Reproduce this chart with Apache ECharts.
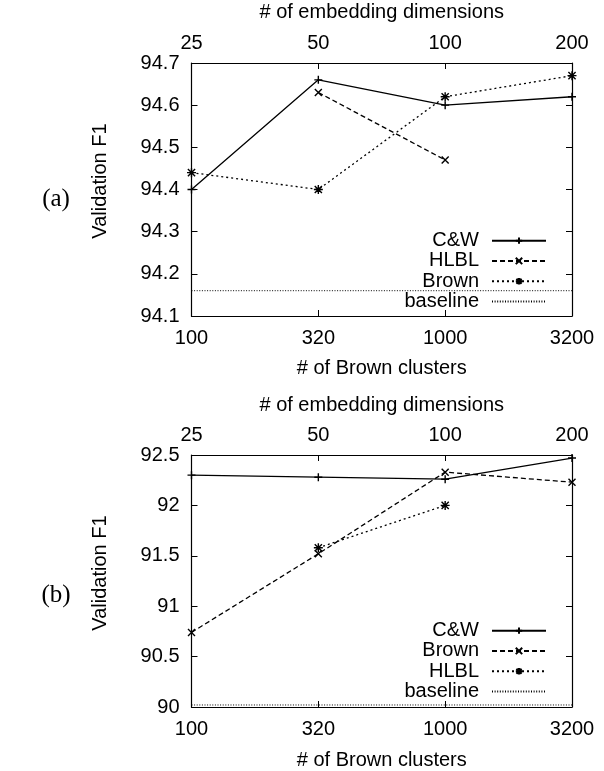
<!DOCTYPE html>
<html>
<head>
<meta charset="utf-8">
<script src="https://cdn.jsdelivr.net/npm/echarts@6/dist/echarts.min.js"></script>
<style>
html,body{margin:0;padding:0;background:#fff;}
#c{width:604px;height:771px;}
</style>
</head>
<body>
<div id="c"></div>
<script>
// ---- data ----
const embDims = ['25', '50', '100', '200'];
const brownClusters = ['100', '320', '1000', '3200'];

// panel (a)
const cwA = [94.40, 94.66, 94.60, 94.62];
const hlblA = [null, 94.63, 94.47, null];
const brownA = [94.44, 94.40, 94.62, 94.67];
const baselineA = 94.16;

// panel (b)
const cwB = [92.30, 92.28, 92.26, 92.47];
const brownB = [90.74, 91.52, 92.33, 92.23];
const hlblB = [null, 91.58, 92.00, null];
const baselineB = 90.02;

const FONT = 'Liberation Sans';
const PLUS = 'path://M-1,0L1,0M0,-1L0,1';
const CROSS = 'path://M-1,-1L1,1M-1,1L1,-1';
const STAR = 'path://M-1,0L1,0M0,-1L0,1M-0.8,-0.8L0.8,0.8M-0.8,0.8L0.8,-0.8';

const chart = echarts.init(document.getElementById('c'), null, {renderer: 'canvas'});

const grids = [
  {left: 191.5, top: 63, width: 380.5, height: 253},
  {left: 191.5, top: 455, width: 380.5, height: 252}
];

function xAxes(gi, botMargin, botGap, topMargin, topGap) {
  const common = {
    type: 'category', gridIndex: gi, boundaryGap: false,
    axisLine: {show: true, lineStyle: {color: '#000', width: 1.2}},
    axisTick: {show: true, inside: true, length: 6, lineStyle: {color: '#000', width: 1}},
    axisLabel: {fontSize: 20, color: '#000', fontFamily: FONT},
    splitLine: {show: false},
    nameLocation: 'middle',
    nameTextStyle: {fontSize: 20, color: '#000', fontFamily: FONT}
  };
  return [
    Object.assign({}, common, {position: 'bottom', data: brownClusters, name: '# of Brown clusters', nameGap: botGap,
      axisLabel: Object.assign({}, common.axisLabel, {margin: botMargin})}),
    Object.assign({}, common, {position: 'top', data: embDims, name: '# of embedding dimensions', nameGap: topGap,
      axisLabel: Object.assign({}, common.axisLabel, {margin: topMargin})})
  ];
}

function yAxes(gi, min, max, interval) {
  const common = {
    type: 'value', gridIndex: gi, min: min, max: max, interval: interval,
    axisLine: {show: true, lineStyle: {color: '#000', width: 1.2}},
    axisTick: {show: true, inside: true, length: 6, lineStyle: {color: '#000', width: 1}},
    splitLine: {show: false}
  };
  return [
    Object.assign({}, common, {position: 'left',
      axisLabel: {fontSize: 20, color: '#000', fontFamily: FONT, margin: 12}}),
    Object.assign({}, common, {position: 'right', axisLabel: {show: false}})
  ];
}

function lineSeries(name, data, xi, yi, type, symbol, size) {
  const isBase = type === 'baseline';
  return {
    name: name, type: 'line', data: data, xAxisIndex: xi, yAxisIndex: yi,
    symbol: symbol, symbolSize: size, showSymbol: !isBase,
    connectNulls: false, silent: true, animation: false,
    lineStyle: {color: '#000', width: isBase ? 1 : 1.3,
      type: type === 'solid' ? 'solid' : type === 'dashed' ? [5, 3] : type === 'dotted' ? [2, 3] : [1, 1.6]},
    itemStyle: isBase ? {color: 'rgba(0,0,0,0)', borderColor: 'rgba(0,0,0,0)', borderWidth: 0}
                      : {color: '#000', borderColor: '#000', borderWidth: 1.4},
    emphasis: {disabled: true}
  };
}

const ZW = '\u200b';
const series = [
  lineSeries('C&W', cwA, 1, 0, 'solid', PLUS, 8),
  lineSeries('HLBL', hlblA, 1, 0, 'dashed', CROSS, 7),
  lineSeries('Brown', brownA, 0, 0, 'dotted', STAR, 9),
  lineSeries('baseline', brownClusters.map(() => baselineA), 0, 0, 'baseline', 'circle', 0),
  lineSeries('C&W' + ZW, cwB, 3, 2, 'solid', PLUS, 8),
  lineSeries('Brown' + ZW, brownB, 2, 2, 'dashed', CROSS, 7),
  lineSeries('HLBL' + ZW, hlblB, 3, 2, 'dotted', STAR, 9),
  lineSeries('baseline' + ZW, brownClusters.map(() => baselineB), 2, 2, 'baseline', 'circle', 0)
];

function legend(names, top) {
  return {
    data: names, orient: 'vertical', align: 'right', right: 57, top: top,
    itemWidth: 54, itemHeight: 8, itemGap: 0, padding: 0,
    selectedMode: false,
    textStyle: {fontSize: 20, color: '#000', fontFamily: FONT, lineHeight: 20.3, padding: [0, 8, 0, 0]}
  };
}

const xa = xAxes(0, 12, 42, 10, 41).concat(xAxes(1, 12, 43, 10, 40));
const ya = yAxes(0, 94.1, 94.7, 0.1).concat(yAxes(1, 90, 92.5, 0.5));

function vText(text, x, y) {
  return {type: 'text', x: x, y: y, rotation: Math.PI / 2,
    style: {text: text, font: '20px "Liberation Sans"', fill: '#000', align: 'center', verticalAlign: 'middle'}};
}

chart.setOption({
  animation: false,
  backgroundColor: '#fff',
  grid: grids,
  xAxis: xa,
  yAxis: ya,
  legend: [
    legend(['C&W', 'HLBL', 'Brown', 'baseline'], 230.5),
    legend(['C&W' + ZW, 'Brown' + ZW, 'HLBL' + ZW, 'baseline' + ZW], 620.5)
  ],
  series: series,
  graphic: [
    vText('Validation F1', 100, 181),
    vText('Validation F1', 100, 573),
    {type: 'text', x: 56, y: 199, style: {text: '(a)', font: '25px "Liberation Serif"', fill: '#000', align: 'center', verticalAlign: 'middle'}},
    {type: 'text', x: 56, y: 595, style: {text: '(b)', font: '25px "Liberation Serif"', fill: '#000', align: 'center', verticalAlign: 'middle'}}
  ]
});
</script>
</body>
</html>
